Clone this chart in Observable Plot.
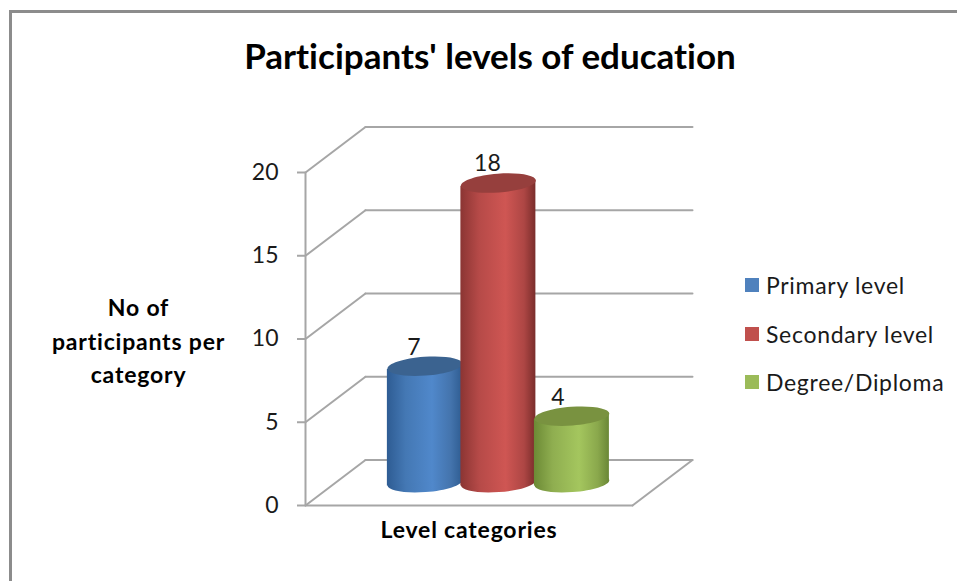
<!DOCTYPE html>
<html><head><meta charset="utf-8">
<script src="https://cdn.jsdelivr.net/npm/d3@7"></script>
<script src="https://cdn.jsdelivr.net/npm/@observablehq/plot@0.6"></script>
<style>
html,body{margin:0;padding:0;background:#fff;width:957px;height:581px;overflow:hidden;font-family:Lato,sans-serif;color:#000;font-variant-ligatures:none}
#frame{position:absolute;left:9px;top:10px;width:960px;height:600px;border-left:3px solid #8c8c8c;border-top:3px solid #8c8c8c;box-sizing:content-box}
#title{position:absolute;left:0;width:980px;top:34px;text-align:center;font-weight:700;font-size:35px;line-height:42px}
#chart{position:absolute;left:0;top:0}
#chart svg text{font-variant-ligatures:none}
.spaced text{letter-spacing:.8px}
#legend{position:absolute;left:745px;top:262px}
.row{position:absolute;left:0;white-space:nowrap;font-size:23px;letter-spacing:.7px;line-height:30px;height:30px;color:#1a1a1a}
.sw{position:absolute;left:0;top:8px;width:14px;height:14px}
.row span.t{position:absolute;left:21px;top:0}
</style></head><body>
<div id="frame"></div>
<div id="title">Participants' levels of education</div>
<div id="chart"></div>
<div id="legend"></div>
<script>
const seriesNames = ["Primary level", "Secondary level", "Degree/Diploma"];
const seriesValues = [7, 18, 4];
const seriesSlots = [-1, 0, 1];
const yTicks = [0, 5, 10, 15, 20];
const yTitle = "No of\nparticipants per\ncategory";
const xTitle = "Level categories";
const swatchColors = ["#4f81bd", "#c0504d", "#9bbb59"];
const topColors = ["#3b6390", "#963f3d", "#799240"];
const gradients = [
  ["#2e5c93", "#4478b4", "#5088cb", "#4474ad", "#2f5d92"],
  ["#8b3533", "#b64a48", "#cf5653", "#ad4644", "#7a2d2b"],
  ["#6c8a35", "#8fae50", "#a4c65e", "#8aa84c", "#6a8736"]
];
const labelShift = [-11, -11, -14];

// oblique projection, in data units (one slot across, one value up)
const depthX = 0.816, depthY = 2.73, halfDomain = 2.224;
const midDepth = 0.49, radius = 0.51, tilt = 0.19;

const cx = i => seriesSlots[i] + depthX * midDepth;
const cy = v => v + depthY * 0.5;

function ellipseSymbol(ratio, angle) {
  return {draw(ctx, size) {
    const rx = Math.sqrt(size / Math.PI), ry = rx * ratio, k = 0.5523;
    const c = Math.cos(angle), s = Math.sin(angle);
    const P = (x, y) => [x * c - y * s, x * s + y * c];
    ctx.moveTo(...P(rx, 0));
    ctx.bezierCurveTo(...P(rx, k * ry), ...P(k * rx, ry), ...P(0, ry));
    ctx.bezierCurveTo(...P(-k * rx, ry), ...P(-rx, k * ry), ...P(-rx, 0));
    ctx.bezierCurveTo(...P(-rx, -k * ry), ...P(-k * rx, -ry), ...P(0, -ry));
    ctx.bezierCurveTo(...P(k * rx, -ry), ...P(rx, -k * ry), ...P(rx, 0));
    ctx.closePath();
  }};
}
const ellipse = ellipseSymbol(0.25, -0.075);

const gridColor = "#a6a6a6";
const lineStyle = {stroke: gridColor, strokeWidth: 2};
const seg = (a, b) => Plot.line([a, b], {x: d => d[0], y: d => d[1], ...lineStyle});

const marks = [];
// back wall and side wall
for (const t of yTicks) {
  if (t > 0) marks.push(seg([-halfDomain + depthX, t + depthY], [halfDomain + depthX, t + depthY]));
  marks.push(seg([-halfDomain, t], [-halfDomain + depthX, t + depthY]));
}
// floor
marks.push(seg([-halfDomain + depthX, depthY], [halfDomain + depthX, depthY]));
marks.push(seg([halfDomain, 0], [halfDomain + depthX, depthY]));
marks.push(seg([-halfDomain, 0], [halfDomain, 0]));
// vertical axis
marks.push(seg([-halfDomain, 0], [-halfDomain, 20]));
marks.push(Plot.axisY(yTicks, {
  anchor: "left", tickSize: 8, tickPadding: 19, label: null,
  fontSize: 23, stroke: gridColor, strokeWidth: 2, color: "#1a1a1a", strokeOpacity: 1
}));

// cylinders
seriesValues.forEach((v, i) => {
  const x = cx(i);
  const bodyRows = [
    {x: x - radius, y1: cy(0) - tilt, y2: cy(v) - tilt},
    {x: x + radius, y1: cy(0) + tilt, y2: cy(v) + tilt}
  ];
  marks.push(Plot.dot([{x, y: cy(0)}], {x: "x", y: "y", r: 37.5, symbol: ellipse, fill: `url(#g${i})`, stroke: "none"}));
  marks.push(Plot.areaY(bodyRows, {x: "x", y1: "y1", y2: "y2", fill: `url(#g${i})`, curve: "linear"}));
  marks.push(Plot.dot([{x, y: cy(v)}], {x: "x", y: "y", r: 37.5, symbol: ellipse, fill: topColors[i], stroke: "none"}));
  marks.push(Plot.text([String(v)], {
    x: [x], y: [cy(v)], text: d => d, dx: labelShift[i], dy: -19,
    fontSize: 23, fill: "#1a1a1a", fontFamily: "Lato"
  }));
});

// axis titles
marks.push(Plot.text([xTitle], {x: [0], y: [-1.5], text: d => d, fontSize: 23, fontWeight: 700, fill: "#000", className: "spaced"}));
marks.push(Plot.text([yTitle], {
  x: [-halfDomain], y: [10], text: d => d, dx: -167, fontSize: 23, fontWeight: 700,
  lineHeight: 1.45, fill: "#000", className: "spaced"
}));

const plot = Plot.plot({
  width: 957, height: 581,
  marginLeft: 305, marginRight: 325, marginTop: 172, marginBottom: 76,
  style: {background: "transparent", fontFamily: "Lato", overflow: "visible"},
  x: {domain: [-halfDomain, halfDomain], axis: null},
  y: {domain: [0, 20], axis: null},
  marks
});

// gradients for the cylinder bodies
const svg = d3.select(plot);
const defs = svg.insert("defs", ":first-child");
gradients.forEach((g, i) => {
  const lg = defs.append("linearGradient").attr("id", `g${i}`).attr("x1", 0).attr("x2", 1).attr("y1", 0).attr("y2", 0);
  [0, 0.25, 0.6, 0.85, 1].forEach((o, j) => lg.append("stop").attr("offset", o).attr("stop-color", g[j]));
});
document.getElementById("chart").append(plot);

// legend
const legend = d3.select("#legend");
seriesNames.forEach((n, i) => {
  const r = legend.append("div").attr("class", "row").style("top", `${i * 48.5 + 8}px`);
  r.append("span").attr("class", "sw").style("background", swatchColors[i]);
  r.append("span").attr("class", "t").text(n);
});
</script>
</body></html>
